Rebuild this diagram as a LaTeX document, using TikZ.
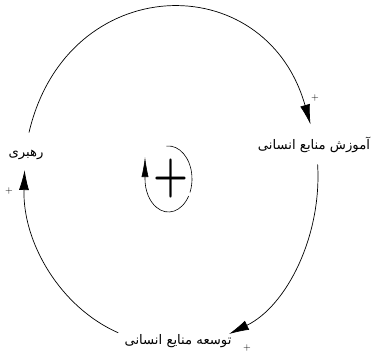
\documentclass[tikz,border=0pt]{standalone}
\usepackage{fontspec}
\usetikzlibrary{arrows.meta,calc}
\newfontfamily\arabicfont[Script=Arabic]{DejaVu Sans}
\TeXXeTstate=1
\begin{document}
\begin{tikzpicture}[x=1pt,y=-1pt,
  var/.style={inner sep=0pt,font=\arabicfont\fontsize{13.2}{15}\selectfont},
  pol/.style={inner sep=0pt,font=\fontsize{10}{10}\selectfont},
  link/.style={line width=0.7pt,-{Latex[length=20pt,width=10pt]}},
  loopline/.style={line width=0.6pt}]
\useasboundingbox (0,0) rectangle (374,353);
% variables
\node[var] (amoozesh) at (314,145) {\beginR آموزش منابع انسانی\endR};
\node[var] (rahbari) at (26,155) {\beginR رهبری\endR};
\node[var] (tosee) at (178,341) {\beginR توسعه منایع انسانی\endR};
% connector end points
\coordinate (r-out) at ($(rahbari.center)+(3,-22.5)$);
\coordinate (r-in) at ($(rahbari.center)+(-1.4,15)$);
\coordinate (a-in) at ($(amoozesh.center)+(-3.5,-20.5)$);
\coordinate (a-out) at ($(amoozesh.center)+(3.6,19.3)$);
\coordinate (t-in) at ($(tosee.center)+(51,-7)$);
\coordinate (t-out) at ($(tosee.center)+(-59.7,-8.2)$);
% connectors
\draw[link] (r-out) .. controls +(37.8,-161.6) and +(-45.2,-159.1) .. (a-in);
\draw[link] (a-out) .. controls +(4.4,71.5) and +(57.7,-28.0) .. (t-in);
\draw[link] (t-out) .. controls +(-58.6,-25.7) and +(-2.2,71.7) .. (r-in);
% polarities
\node[pol] (p1) at (315,98) {+};
\node[pol] (p2) at (247,348) {+};
\node[pol] (p3) at (9,191) {+};
% loop symbol
\node[inner sep=0pt,font=\bfseries\fontsize{40}{40}\selectfont] (loopsign) at (171,179) {\scalebox{1}[1.3]{+}};
\draw[loopline] (168.5,179) ++(-95:23.5 and 33) arc[start angle=-95,end angle=24,x radius=23.5,y radius=33];
\draw[loopline,-{Latex[length=20pt,width=7pt]}] (168.5,179) ++(31:23.5 and 33) arc[start angle=31,end angle=180,x radius=23.5,y radius=33] -- ++(0,-22);
\end{tikzpicture}
\end{document}
